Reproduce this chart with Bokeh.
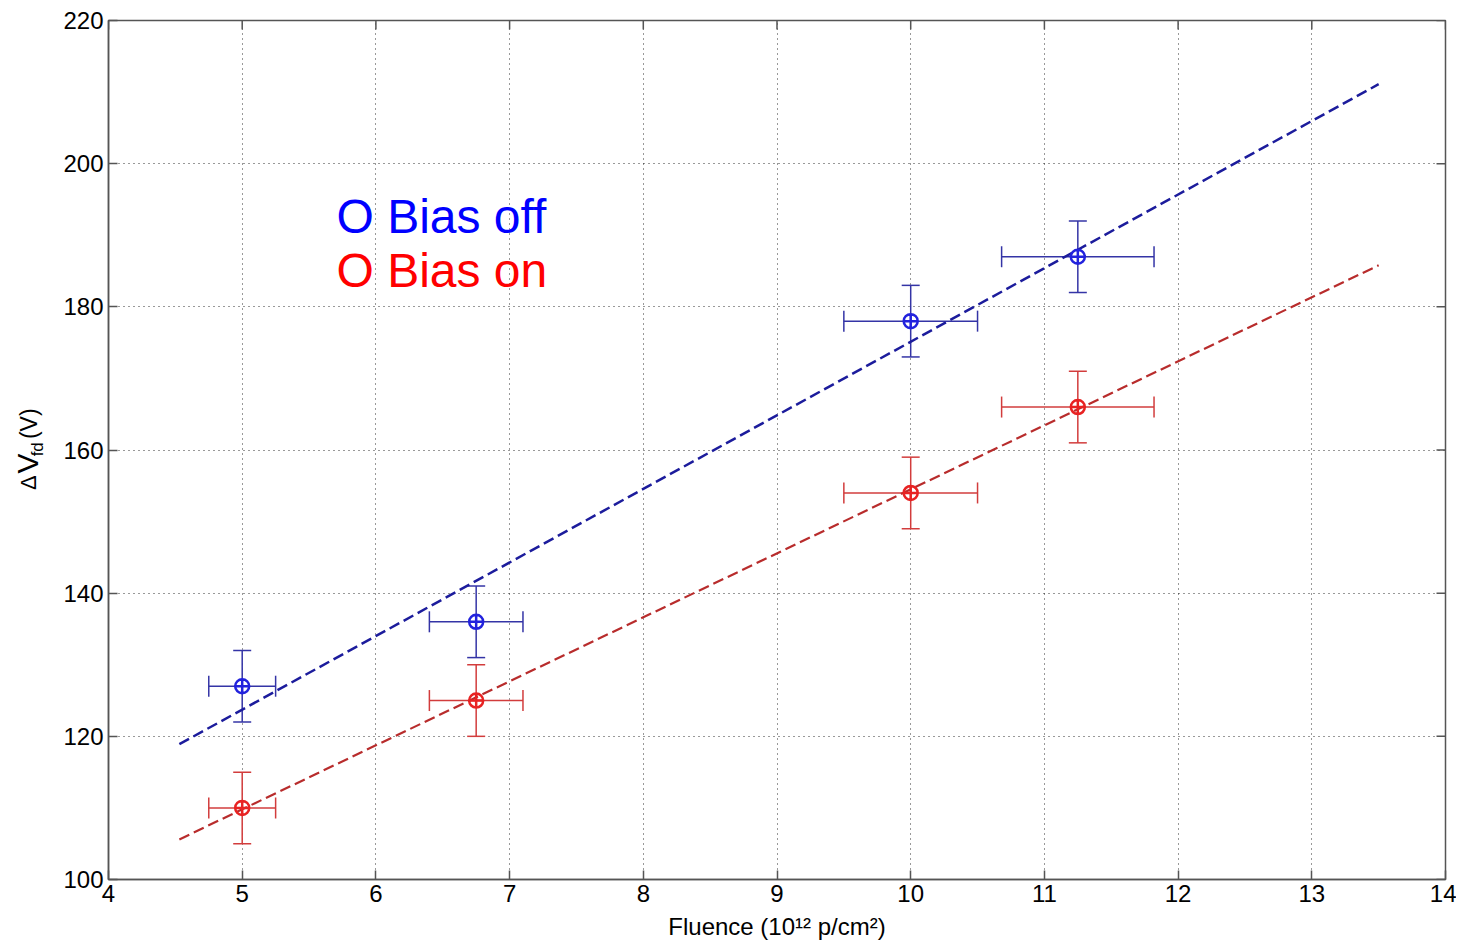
from bokeh.plotting import figure
from bokeh.layouts import row
from bokeh.models import (Range1d, LinearAxis, Whisker, TeeHead, ColumnDataSource,
                          FixedTicker, Grid)
from bokeh.core.properties import value
from bokeh.embed import file_html
from bokeh.resources import INLINE
import math

# ---- data ----
fluence = [5.0, 6.75, 10.0, 11.25]
fluence_err = [0.25, 0.35, 0.5, 0.57]
v_off = [127, 136, 178, 187]
v_on = [110, 125, 154, 166]
v_err = [5, 5, 5, 5]

fit_x = [4.53, 13.5]
fit_off = [118.9, 211.1]
fit_on = [105.6, 185.8]

x_ticks = [4, 5, 6, 7, 8, 9, 10, 11, 12, 13, 14]
y_ticks = [100, 120, 140, 160, 180, 200, 220]

legend_texts = ["O Bias off", "O Bias on"]
legend_colors = ["#0000ff", "#ff0000"]
legend_x = [5.705, 5.705]
legend_y = [192.6, 185.1]

FONT = "Liberation Sans"
H = 946
LEFT_W = 56
AX = "#555555"

p = figure(width=1456 - LEFT_W, height=H, output_backend="svg", toolbar_location=None,
           x_range=Range1d(4, 14), y_range=Range1d(100, 220),
           x_axis_type=None, y_axis_type=None,
           min_border_left=108 - LEFT_W, min_border_right=11, min_border_top=20,
           min_border_bottom=H - 879)
p.background_fill_color = "white"
p.border_fill_color = "white"
p.outline_line_color = AX
p.outline_line_width = 1.5


def make_axis(ticks):
    ax = LinearAxis(ticker=FixedTicker(ticks=ticks))
    ax.axis_line_color = AX
    ax.axis_line_width = 1.5
    ax.major_tick_in = 9
    ax.major_tick_out = 0
    ax.major_tick_line_color = AX
    ax.major_tick_line_width = 1.5
    ax.minor_tick_line_color = None
    ax.major_label_text_font = FONT
    ax.major_label_text_color = "black"
    ax.major_label_text_font_size = "24px"
    ax.major_label_standoff = 5
    return ax


xax = make_axis(x_ticks)
xax.axis_label = "Fluence (10¹² p/cm²)"
xax.axis_label_text_font = FONT
xax.axis_label_text_font_size = "24px"
xax.axis_label_text_font_style = "normal"
xax.axis_label_text_color = "black"
xax.axis_label_standoff = 8
p.add_layout(xax, "below")
p.add_layout(make_axis(y_ticks), "left")

# grid
for dim, ticks in ((0, x_ticks), (1, y_ticks)):
    g = Grid(dimension=dim, ticker=FixedTicker(ticks=ticks))
    g.grid_line_color = "black"
    g.grid_line_alpha = 0.8
    g.grid_line_dash = "1 4"
    g.grid_line_width = 1
    p.add_layout(g)

# ticks on the right and top sides (half of each dash is clipped by the frame)
p.scatter([14] * len(y_ticks), y_ticks, marker="dash", size=18,
          line_color=AX, line_width=1.5)
p.scatter(x_ticks, [220] * len(x_ticks), marker="dash", size=18, angle=math.pi / 2,
          line_color=AX, line_width=1.5)

# fit lines
p.line(fit_x, fit_off, line_color="#1c1c9c", line_width=2.5, line_dash="11 5")
p.line(fit_x, fit_on, line_color="#b82c2c", line_width=2.2, line_dash="11 5")


def add_series(yvals, bar_color, marker_color):
    src = ColumnDataSource(dict(
        x=fluence, y=yvals,
        yl=[y - e for y, e in zip(yvals, v_err)],
        yu=[y + e for y, e in zip(yvals, v_err)],
        xl=[x - e for x, e in zip(fluence, fluence_err)],
        xu=[x + e for x, e in zip(fluence, fluence_err)],
    ))
    wv = Whisker(source=src, base="x", lower="yl", upper="yu", dimension="height",
                 line_color=bar_color, line_width=1.5,
                 upper_head=TeeHead(size=18, line_color=bar_color, line_width=1.5),
                 lower_head=TeeHead(size=18, line_color=bar_color, line_width=1.5))
    wh = Whisker(source=src, base="y", lower="xl", upper="xu", dimension="width",
                 line_color=bar_color, line_width=1.5,
                 upper_head=TeeHead(size=21, line_color=bar_color, line_width=1.5),
                 lower_head=TeeHead(size=21, line_color=bar_color, line_width=1.5))
    p.add_layout(wv)
    p.add_layout(wh)
    p.scatter("x", "y", source=src, marker="circle_cross", size=14,
              fill_color=None, line_color=marker_color, line_width=2.5)


add_series(v_off, "#3434a6", "#2222dd")
add_series(v_on, "#d23c3c", "#e82222")

# legend-like texts
p.text(x=legend_x, y=legend_y, text=legend_texts, text_color=legend_colors,
       text_font=value(FONT), text_font_size="48px",
       text_baseline="alphabetic", text_align="left")

# ---- left strip holding the rotated y-axis label (pixel coordinates) ----
q = figure(width=LEFT_W, height=H, output_backend="svg", toolbar_location=None,
           x_range=Range1d(0, LEFT_W), y_range=Range1d(0, H),
           x_axis_type=None, y_axis_type=None,
           min_border_left=0, min_border_right=0, min_border_top=0,
           min_border_bottom=0)
q.outline_line_color = None
q.background_fill_color = "white"
q.border_fill_color = "white"
q.xgrid.visible = False
q.ygrid.visible = False

ylab_text = ["Δ", "V", "fd", "(V)"]
ylab_x = [28, 27, 37, 28]
ylab_y = [H - 517, H - 499, H - 480, H - 461]
ylab_size = ["22px", "30px", "17px", "23px"]
for t, xx, yy, fs in zip(ylab_text, ylab_x, ylab_y, ylab_size):
    q.text(x=[xx], y=[yy], text=[t], angle=math.pi / 2, text_font=value(FONT),
           text_font_size=fs, text_align="left", text_baseline="alphabetic",
           text_color="black")

layout = row(q, p, spacing=0)
open("out.html", "w").write(file_html(layout, INLINE))
